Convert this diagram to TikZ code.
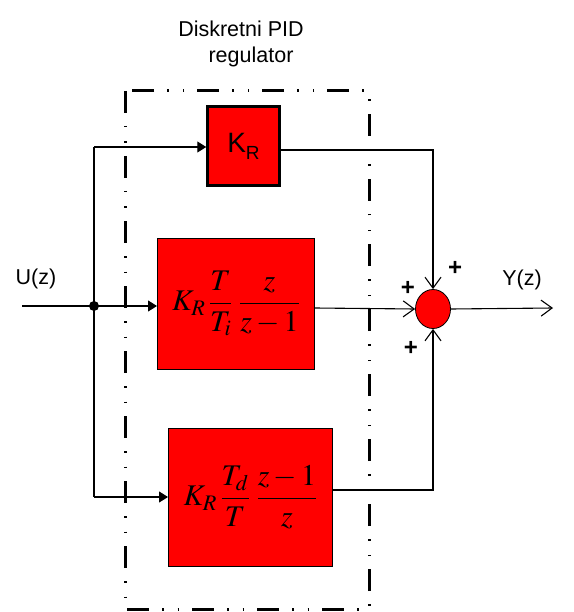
\documentclass[tikz,border=0pt]{standalone}
\usepackage{mathptmx}
\usepackage{fontspec}
\setmainfont{Liberation Sans}
\usetikzlibrary{arrows.meta,shapes.geometric}
\begin{document}
\begin{tikzpicture}[x=1pt,y=-1pt,
  blk/.style={draw=black,fill=red,inner sep=0pt},
  wire/.style={line width=1.1pt},
  fin/.style={wire,-{Triangle[length=9,width=11]}},
  oin/.style={wire,-{Straight Barb[length=11,width=16,line width=1.1pt]}},
  lbl/.style={font=\fontsize{21.5}{24}\selectfont},
  pl/.style={font=\fontsize{24}{24}\selectfont\bfseries},
  eq/.style={font=\fontsize{30}{34}\selectfont}]
\useasboundingbox (0,0) rectangle (573,612);
% dash-dot frame
\draw[line width=3pt,dash pattern=on 22pt off 13pt on 1.5pt off 14pt on 1.5pt off 13pt]
  (125,91) rectangle (369,609);
% blocks
\node[blk,line width=2.5pt,minimum width=72,minimum height=79] (kr) at (243.5,146) {\fontsize{28}{28}\selectfont K\raisebox{-7pt}{\fontsize{19}{19}\selectfont R}};
\node[blk,eq,line width=1pt,minimum width=157,minimum height=131] (ki) at (236,303.5) {$\displaystyle K_{R}\,\frac{T}{T_i}\;\frac{z}{z-1}$};
\node[blk,eq,line width=1pt,minimum width=164,minimum height=138] (kd) at (250.5,497) {$\displaystyle K_{R}\,\frac{T_d}{T}\;\frac{z-1}{z}$};
% summing junction
\node[draw=black,fill=red,ellipse,minimum width=35,minimum height=39,inner sep=0pt,line width=0.8pt] (s) at (433,309) {};
% input
\coordinate (uin) at (22,306);
\coordinate (j) at (94,306);
\coordinate (jt) at (94,147);
\coordinate (jb) at (94,497);
\draw[wire] (uin) -- (j);
\fill (j) circle (5);
\draw[fin] (j) -- (ki.west |- j);
\draw[wire] (jt) -- (jb);
\draw[fin] (jt) -- (kr.west |- jt);
\draw[fin] (jb) -- (kd.west |- jb);
% outputs to sum
\draw[oin] (kr.east |- 0,150) -| (s.north);
\draw[oin] (ki.east |- 0,308) -- (s.west);
\draw[oin] (kd.east |- 0,490) -| (s.south);
\coordinate (yout) at (553,308);
\draw[oin] (s.east) -- (yout);
% labels
\node[lbl] at (241,29) {Diskretni PID};
\node[lbl] at (251,57) {regulator};
\node[lbl] at (36,279) {U(z)};
\node[lbl] at (522,280) {Y(z)};
\node[pl] at (455,268) {+};
\node[pl] at (408,288) {+};
\node[pl] at (411,348) {+};
\end{tikzpicture}
\end{document}
